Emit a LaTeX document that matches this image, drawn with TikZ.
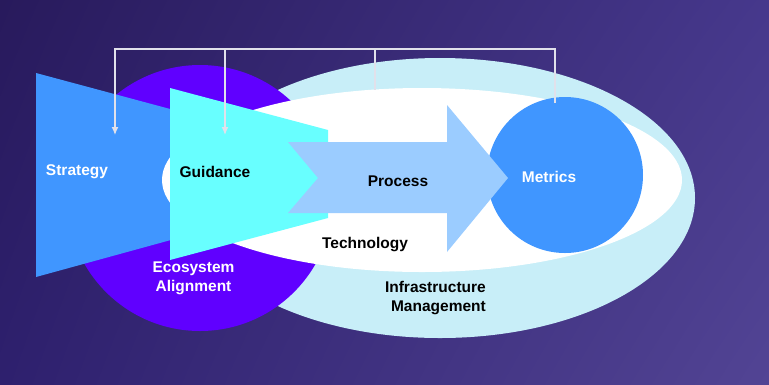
\documentclass[tikz,border=0pt]{standalone}
\usepackage{fontspec}
\setmainfont{Liberation Sans}
\usetikzlibrary{arrows.meta,shadings}

\definecolor{bgtl}{RGB}{40,26,92}
\definecolor{bgtr}{RGB}{70,56,140}
\definecolor{bgbl}{RGB}{46,32,110}
\definecolor{bgbr}{RGB}{82,68,148}
\definecolor{infra}{RGB}{200,238,248}
\definecolor{eco}{RGB}{96,0,255}
\definecolor{stratblue}{RGB}{64,150,255}
\definecolor{guidecyan}{RGB}{104,255,255}
\definecolor{procblue}{RGB}{155,204,255}
\definecolor{fbgray}{RGB}{225,225,235}

\begin{document}
\begin{tikzpicture}[x=1pt, y=-1pt, >={Latex[length=8pt,width=7pt]},
    lbl/.style={font=\bfseries\fontsize{15.5}{19}\selectfont, align=center, inner sep=0pt},
    fb/.style={draw=fbgray, line width=1.2pt}]
    % background
    \shade[upper left=bgtl, upper right=bgtr, lower left=bgbl, lower right=bgbr] (0,0) rectangle (769,384);
    \useasboundingbox (0,0) rectangle (769,384);

    % infrastructure ring (outer ellipse)
    \fill[infra] (440,198) ellipse (255 and 140);

    % ecosystem circle
    \fill[eco] (200,198) circle (133);

    % strategy block
    \fill[stratblue] (36,73) -- (200,117) -- (200,232) -- (36,277) -- cycle;

    % technology (inner white ellipse)
    \fill[white] (422,180) ellipse (260 and 92);

    % guidance block
    \fill[guidecyan] (170,88) -- (328,130) -- (328,218) -- (170,260) -- cycle;

    % metrics circle
    \fill[stratblue] (565,175) circle (78);

    % process arrow
    \fill[procblue] (288,142) -- (447,142) -- (447,105) -- (508,178)
        -- (447,252) -- (447,213) -- (288,213) -- (318,178) -- cycle;

    % feedback lines
    \coordinate (bus) at (0,49);
    \coordinate (fbM) at (555,103);
    \coordinate (fbS) at (115,135);
    \coordinate (fbG) at (225,135);
    \coordinate (fbT) at (375,90);
    \draw[fb,->] (fbM) -- (fbM |- bus) -| (fbS);
    \draw[fb,->] (fbG |- bus) -- (fbG);
    \draw[fb] (fbT |- bus) -- (fbT);

    % labels
    \node[lbl, text=white] (strat) at (77,172) {Strategy};
    \node[lbl] (guide) at (215,172) {Guidance};
    \node[lbl] (proc) at (398,181) {Process};
    \node[lbl, text=white] (metrics) at (549,177) {Metrics};
    \node[lbl] (tech) at (365,245) {Technology};
    \node[lbl, text=white] (eco) at (193.5,278) {Ecosystem\\Alignment};
    \node[lbl, align=right, anchor=east] (infra) at (486,298) {Infrastructure\\Management};
\end{tikzpicture}
\end{document}
